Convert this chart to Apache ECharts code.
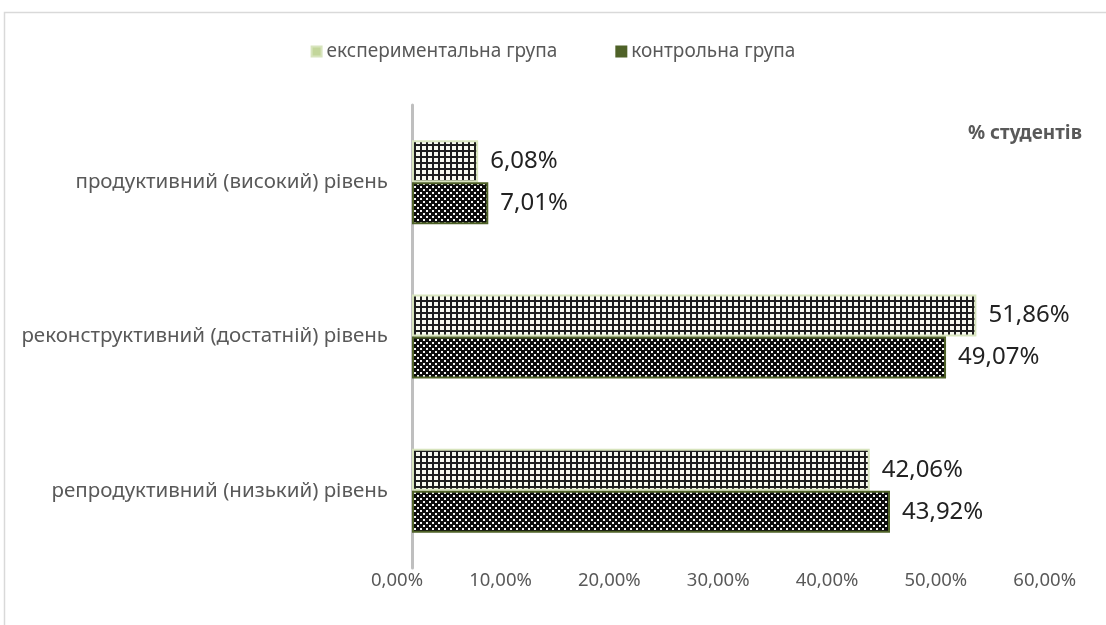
<!DOCTYPE html>
<html>
<head>
<meta charset="utf-8">
<script src="https://cdn.jsdelivr.net/npm/echarts@6/dist/echarts.min.js"></script>
<style>
  html, body { margin: 0; padding: 0; background: #fff; }
  #chart { width: 1106px; height: 625px; }
</style>
</head>
<body>
<div id="chart"></div>
<script>
// дані
var levels = ['продуктивний (високий) рівень', 'реконструктивний (достатній) рівень', 'репродуктивний (низький) рівень'];
var expValues = [6.08, 51.86, 42.06];
var ctrlValues = [7.01, 49.07, 43.92];
var seriesNames = ['експериментальна група', 'контрольна група'];
var axisTicks = [0, 10, 20, 30, 40, 50, 60];

function pct(v) {
  return v.toFixed(2).replace('.', ',') + '%';
}

// штриховка "сітка"
function gridPattern() {
  var c = document.createElement('canvas');
  c.width = 6; c.height = 6;
  var ctx = c.getContext('2d');
  ctx.fillStyle = '#f7f9ef';
  ctx.fillRect(0, 0, 6, 6);
  ctx.fillStyle = '#1e1e1e';
  ctx.fillRect(0, 0, 6, 2);
  ctx.fillRect(0, 0, 2, 6);
  return c;
}

// штриховка "крапки"
function dotPattern() {
  var c = document.createElement('canvas');
  c.width = 6; c.height = 6;
  var ctx = c.getContext('2d');
  ctx.fillStyle = '#0c0c0c';
  ctx.fillRect(0, 0, 6, 6);
  ctx.fillStyle = '#f4f4f4';
  ctx.fillRect(0, 0, 2, 2);
  ctx.fillRect(3, 3, 2, 2);
  return c;
}

var chart = echarts.init(document.getElementById('chart'));

var valueLabel = {
  show: true,
  position: 'right',
  distance: 12,
  fontFamily: 'Noto Sans',
  fontSize: 24,
  color: '#222',
  formatter: function (p) { return pct(p.value); }
};

var option = {
  animation: false,
  textStyle: { fontFamily: 'Noto Sans' },
  graphic: [{
    type: 'rect',
    shape: { x: 4.5, y: 12.5, width: 1120, height: 630 },
    style: { fill: 'none', stroke: '#d9d9d9', lineWidth: 1.5 },
    silent: true
  }],
  title: {
    text: '% студентів',
    right: 19,
    top: 119,
    textStyle: { fontSize: 19, fontWeight: 'bold', color: '#595959', fontFamily: 'Noto Sans' }
  },
  legend: {
    top: 37,
    left: 'center',
    itemWidth: 10,
    itemHeight: 10,
    itemGap: 58,
    textStyle: { fontSize: 19, color: '#595959' },
    data: [
      { name: seriesNames[0], icon: 'rect', itemStyle: { color: '#c3d69b' } },
      { name: seriesNames[1], icon: 'rect', itemStyle: { color: '#4f6228' } }
    ]
  },
  grid: { left: 412, right: 41, top: 105, bottom: 57 },
  xAxis: {
    type: 'value',
    min: axisTicks[0],
    max: axisTicks[axisTicks.length - 1],
    interval: 10,
    splitLine: { show: false },
    axisLine: { show: false },
    axisTick: { show: false },
    axisLabel: {
      fontSize: 18.5,
      color: '#595959',
      margin: 3,
      align: 'right',
      padding: [0, -11, 0, 0],
      formatter: function (v) { return pct(v); }
    }
  },
  yAxis: {
    type: 'category',
    inverse: true,
    data: levels,
    axisLine: { show: true, lineStyle: { color: '#bfbfbf', width: 3 } },
    axisTick: { show: false },
    axisLabel: { fontSize: 20.5, color: '#595959', margin: 24 }
  },
  series: [{
    name: seriesNames[0],
    type: 'bar',
    barWidth: 42,
    barGap: '0%',
    data: expValues,
    itemStyle: {
      color: { image: gridPattern(), repeat: 'repeat' },
      borderColor: '#d7e4bd',
      borderWidth: 2
    },
    label: valueLabel
  }, {
    name: seriesNames[1],
    type: 'bar',
    barWidth: 42,
    barGap: '0%',
    data: ctrlValues,
    itemStyle: {
      color: { image: dotPattern(), repeat: 'repeat' },
      borderColor: '#4f6228',
      borderWidth: 2
    },
    label: valueLabel
  }]
};

chart.setOption(option);
</script>
</body>
</html>
